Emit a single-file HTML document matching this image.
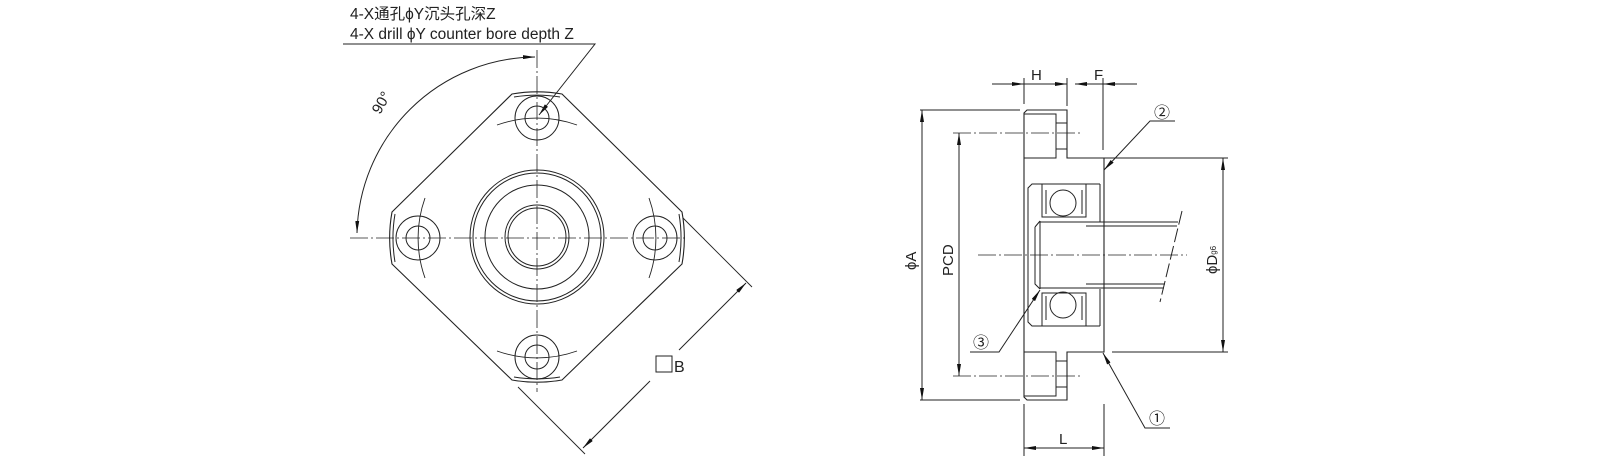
<!DOCTYPE html>
<html><head><meta charset="utf-8"><style>
html,body{margin:0;padding:0;background:#fff;}
svg{display:block;}
text{font-family:"Liberation Sans","Noto Sans CJK SC",sans-serif;fill:#222;}
</style></head><body>
<svg width="1610" height="461" viewBox="0 0 1610 461" xmlns="http://www.w3.org/2000/svg">
<defs>
<marker id="ar" viewBox="0 0 12 4" refX="12" refY="2" markerWidth="12" markerHeight="4" markerUnits="userSpaceOnUse" orient="auto-start-reverse"><path d="M0,0 L12,2 L0,4 Z" fill="#111"/></marker>
</defs>
<g fill="none" stroke="#222" stroke-width="1">
<polyline points="343,44 595,44 539,115" marker-end="url(#ar)"/>
<line x1="350" y1="238" x2="688" y2="238" stroke-dasharray="18,3,2,3" stroke-width="0.8"/>
<line x1="537" y1="50" x2="537" y2="392" stroke-dasharray="18,3,2,3" stroke-width="0.8"/>
<path d="M535,57 A180 180 0 0 0 357,233" marker-start="url(#ar)" marker-end="url(#ar)"/>
<path d="M512,94 A145 145 0 0 1 562,94 L682,212 A145 145 0 0 1 682,264 L562,380 A145 145 0 0 1 512,380 L392,264 A145 145 0 0 1 392,212 Z" stroke-width="1.1"/>
<path d="M514,97 A142 142 0 0 1 560,97 M679,214 A142 142 0 0 1 679,262 M560,377 A142 142 0 0 1 514,377 M395,262 A142 142 0 0 1 395,214"/>
<g>
<circle cx="537" cy="118" r="22"/><circle cx="537" cy="118" r="12"/>
<circle cx="418" cy="238" r="22"/><circle cx="418" cy="238" r="12"/>
<circle cx="655" cy="238" r="22"/><circle cx="655" cy="238" r="12"/>
<circle cx="537" cy="357" r="22"/><circle cx="537" cy="357" r="12"/>
</g>
<path d="M497,125 A119 119 0 0 1 577,125 M577,351 A119 119 0 0 1 497,351 M425,198 A119 119 0 0 0 425,278 M649,198 A119 119 0 0 1 649,278" stroke-width="0.9"/>
<circle cx="537" cy="237" r="67"/><circle cx="537" cy="237" r="64"/>
<circle cx="537" cy="237" r="52"/>
<circle cx="537" cy="237" r="32"/><circle cx="537" cy="237" r="29"/>
<line x1="683" y1="218" x2="752" y2="287" stroke-width="0.9"/>
<line x1="518" y1="387" x2="585" y2="454" stroke-width="0.9"/>
<line x1="679" y1="350" x2="746" y2="283" marker-end="url(#ar)"/>
<line x1="650" y1="381" x2="583" y2="448" marker-end="url(#ar)"/>
<rect x="656" y="356" width="16" height="16" stroke-width="1"/>

<line x1="992" y1="84" x2="1024" y2="84" marker-end="url(#ar)"/>
<line x1="1024" y1="84" x2="1067" y2="84"/>
<line x1="1045" y1="84" x2="1067" y2="84" marker-end="url(#ar)"/>
<line x1="1075" y1="84" x2="1103" y2="84" marker-start="url(#ar)"/>
<line x1="1103" y1="84" x2="1137" y2="84"/>
<line x1="1118" y1="84" x2="1103" y2="84" marker-end="url(#ar)"/>
<line x1="1024" y1="78" x2="1024" y2="104"/>
<line x1="1067" y1="78" x2="1067" y2="106"/>
<line x1="1103" y1="78" x2="1103" y2="150"/>
<path d="M1024,113 L1027,110 L1067,110 L1067,158 L1104,158 L1104,352 L1067,352 L1067,400 L1027,400 L1024,397 Z" stroke-width="1.1"/>
<line x1="1104" y1="158" x2="1228" y2="158"/>
<line x1="1112" y1="352" x2="1228" y2="352"/>
<polyline points="1024,114 1056,114 1056,158 1024,158"/>
<line x1="1056" y1="123" x2="1067" y2="123"/><line x1="1056" y1="149" x2="1067" y2="149"/>
<polyline points="1024,352 1056,352 1056,396 1024,396"/>
<line x1="1056" y1="361" x2="1067" y2="361"/><line x1="1056" y1="387" x2="1067" y2="387"/>
<line x1="953" y1="133" x2="1081" y2="133" stroke-dasharray="18,3,2,3" stroke-width="0.8"/>
<line x1="953" y1="376" x2="1081" y2="376" stroke-dasharray="18,3,2,3" stroke-width="0.8"/>
<line x1="920" y1="110" x2="1020" y2="110"/><line x1="920" y1="400" x2="1020" y2="400"/>
<line x1="922" y1="110" x2="922" y2="400" marker-start="url(#ar)" marker-end="url(#ar)"/>
<line x1="959" y1="133" x2="959" y2="376" marker-start="url(#ar)" marker-end="url(#ar)"/>
<path d="M1100,184 L1032,184 L1028,188 L1028,322 L1032,326 L1100,326"/>
<line x1="1100" y1="184" x2="1100" y2="222"/><line x1="1100" y1="289" x2="1100" y2="326"/>
<rect x="1042" y="184" width="44" height="33"/>
<rect x="1042" y="293" width="44" height="33"/>
<line x1="1046" y1="190" x2="1046" y2="214"/><line x1="1082" y1="190" x2="1082" y2="214"/>
<line x1="1046" y1="296" x2="1046" y2="320"/><line x1="1082" y1="296" x2="1082" y2="320"/>
<circle cx="1063" cy="203" r="13"/><circle cx="1063" cy="305" r="13"/>
<path d="M1040,221 L1040,289 M1035,227 L1035,284 L1040,289 M1035,227 L1040,221"/>
<line x1="1040" y1="222" x2="1086" y2="222"/><line x1="1040" y1="288" x2="1086" y2="288"/>
<line x1="1086" y1="222" x2="1178" y2="222"/><line x1="1086" y1="226" x2="1177" y2="226"/>
<line x1="1086" y1="284" x2="1165" y2="284"/><line x1="1086" y1="288" x2="1164" y2="288"/>
<line x1="1182" y1="211" x2="1160" y2="302" stroke-dasharray="14,4"/>
<line x1="978" y1="255" x2="1187" y2="255" stroke-dasharray="18,3,2,3" stroke-width="0.8"/>
<line x1="1223" y1="158" x2="1223" y2="352" marker-start="url(#ar)" marker-end="url(#ar)"/>
<line x1="1024" y1="404" x2="1024" y2="456"/><line x1="1104" y1="404" x2="1104" y2="456"/>
<line x1="1024" y1="448" x2="1104" y2="448" marker-start="url(#ar)" marker-end="url(#ar)"/>
<polyline points="1175,121 1150,121 1104,170" marker-end="url(#ar)"/>
<polyline points="1170,428 1145,428 1103,353" marker-end="url(#ar)"/>
<polyline points="970,352 999,352 1040,290" marker-end="url(#ar)"/>
</g>
<text x="350" y="19" font-size="15.5">4-X通孔ϕY沉头孔深Z</text>
<text x="350" y="39" font-size="15.5">4-X drill ϕY counter bore depth Z</text>
<text x="0" y="0" font-size="15" transform="translate(380,115) rotate(-60)">90°</text>
<text x="674" y="372" font-size="16">B</text>
<text x="1031" y="80" font-size="15">H</text>
<text x="1094" y="80" font-size="15">F</text>
<text x="1059" y="444" font-size="15">L</text>
<text x="0" y="0" font-size="15" transform="translate(916,270) rotate(-90)">ϕA</text>
<text x="0" y="0" font-size="15" transform="translate(953,276) rotate(-90)">PCD</text>
<text x="0" y="0" font-size="15" transform="translate(1217,274) rotate(-90)">ϕD<tspan font-size="8" dy="-1">g6</tspan></text>
<text x="1154" y="118" font-size="16">②</text>
<text x="973" y="348" font-size="16">③</text>
<text x="1149" y="424" font-size="16">①</text>
</svg>
</body></html>
